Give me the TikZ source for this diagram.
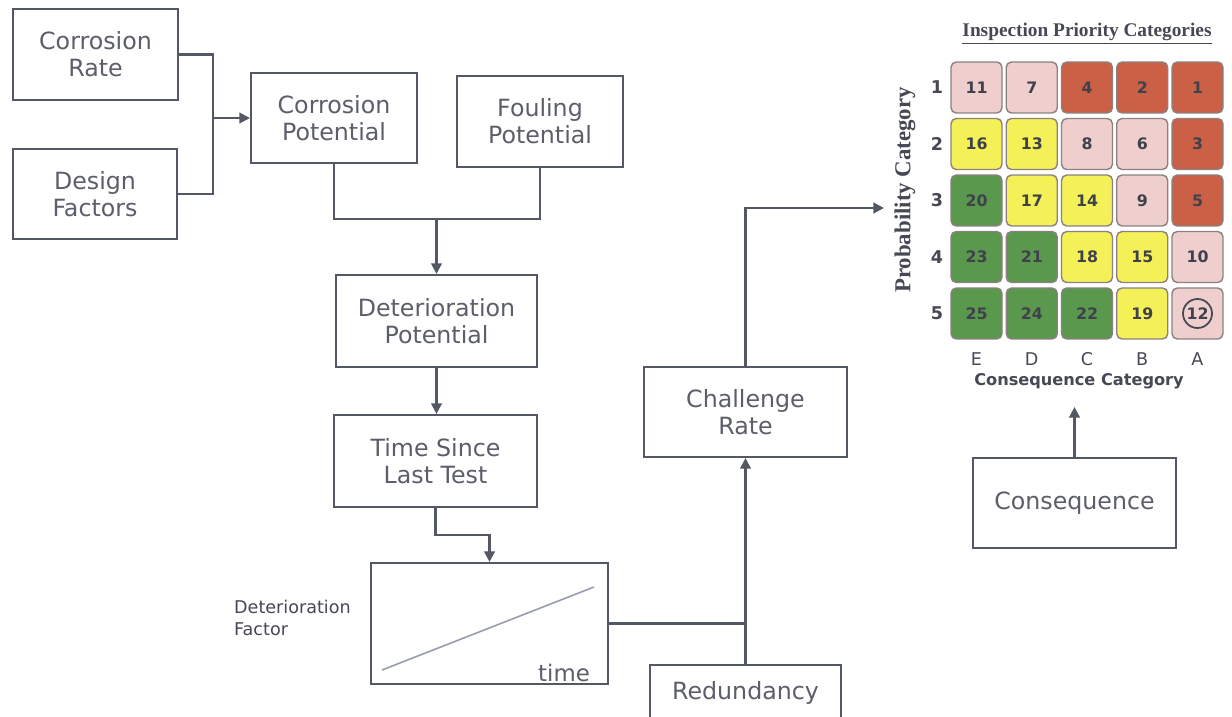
\documentclass[tikz,border=0pt]{standalone}
\usepackage{fontspec}
\setmainfont{DejaVu Sans}
\newfontfamily\ttlfont{Liberation Serif}
\usepackage{xcolor}
\usetikzlibrary{positioning, arrows.meta}
\definecolor{LineGrey}{RGB}{84,88,100}
\definecolor{TextGrey}{RGB}{92,94,106}
\definecolor{DarkGrey}{RGB}{70,72,84}
\definecolor{CurveGrey}{RGB}{150,156,172}
\definecolor{cellP}{RGB}{239,206,206}
\definecolor{cellR}{RGB}{202,96,70}
\definecolor{cellY}{RGB}{243,240,88}
\definecolor{cellG}{RGB}{90,152,78}
\definecolor{CellEdge}{RGB}{140,128,128}
\newcommand{\boxfs}{\fontsize{13.5}{15.5}\selectfont}
\tikzset{
  flowbox/.style={draw=LineGrey, line width=1.2pt, fill=white, text=TextGrey,
    inner sep=0pt, align=center, font=\boxfs},
  wire/.style={draw=LineGrey, line width=1.2pt},
  flowarrow/.style={wire, -{Triangle[length=6pt,width=6pt]}},
  cell/.style={draw=CellEdge, line width=0.8pt, rounded corners=3pt,
    minimum width=1.02cm, minimum height=1.02cm, inner sep=0pt,
    font=\bfseries\fontsize{9}{10}\selectfont, text=DarkGrey!90!black},
  axislab/.style={font=\bfseries\fontsize{10}{12}\selectfont, text=DarkGrey},
}

\begin{document}
\begin{tikzpicture}[x=0.02cm, y=-0.02cm]
  \useasboundingbox (0,0) rectangle (1232,717);

  % input boxes
  \node[flowbox, minimum width=3.3cm, minimum height=1.82cm] (crate) at (95.5,54.5) {Corrosion\\Rate};
  \node[flowbox, minimum width=3.28cm, minimum height=1.8cm] (design) at (95,194) {Design\\Factors};
  \node[flowbox, minimum width=3.32cm, minimum height=1.8cm] (cpot) at (334,118) {Corrosion\\Potential};
  \node[flowbox, minimum width=3.32cm, minimum height=1.82cm] (fpot) at (540,121.5) {Fouling\\Potential};
  \node[flowbox, minimum width=4.02cm, minimum height=1.84cm] (dpot) at (436.5,321) {Deterioration\\Potential};
  \node[flowbox, minimum width=4.06cm, minimum height=1.84cm] (tslt) at (435.5,461) {Time Since\\Last Test};
  \node[flowbox, minimum width=4.74cm, minimum height=2.42cm] (graph) at (489.5,623.5) {};
  \node[flowbox, minimum width=4.06cm, minimum height=1.8cm] (chal) at (745.5,412) {Challenge\\Rate};
  \node[flowbox, minimum width=3.82cm, minimum height=1.1cm] (redund) at (745.5,692.5) {Redundancy};
  \node[flowbox, minimum width=4.06cm, minimum height=1.8cm] (conseq) at (1074.5,503) {Consequence};

  % graph inside the deterioration box
  \draw[CurveGrey, line width=0.9pt] (382,670) -- (594,587);
  \node[text=TextGrey, font=\fontsize{13}{15}\selectfont] (tlab) at (564,673) {time};
  \node[anchor=west, align=left, text=DarkGrey, font=\fontsize{10}{13}\selectfont] (dfac) at (228,618) {Deterioration\\Factor};

  % connectors
  \coordinate (j1) at (213,118);
  \coordinate (j2) at (436.5,219);
  \coordinate (j3) at (489.5,535);
  \coordinate (mtx) at (884,208);
  \coordinate (ctip) at (1074.5,407);
  \draw[wire] (crate.east) -| (j1);
  \draw[wire] (design.east) -| (j1);
  \draw[flowarrow] (j1) -- (cpot.west);
  \draw[wire] (cpot.south) |- (j2) -| (fpot.south);
  \draw[flowarrow] (j2) -- (dpot.north);
  \draw[flowarrow] (dpot.south) -- (dpot.south |- tslt.north);
  \draw[flowarrow] (tslt.south) |- (j3) -- (graph.north);
  \draw[wire] (graph.east) -- (graph.east -| chal.south);
  \draw[flowarrow] (redund.north) -- (chal.south);
  \draw[flowarrow] (chal.north) |- (mtx);
  \draw[flowarrow] (conseq.north) -- (ctip);

  % inspection priority matrix
  \node[text=DarkGrey, font=\ttlfont\bfseries\fontsize{11}{13}\selectfont] (title) at (1087,34) {\underline{Inspection Priority Categories}};
  \foreach \r/\cells in {1/{11/P,7/P,4/R,2/R,1/R}, 2/{16/Y,13/Y,8/P,6/P,3/R},
      3/{20/G,17/Y,14/Y,9/P,5/R}, 4/{23/G,21/G,18/Y,15/Y,10/P}, 5/{25/G,24/G,22/G,19/Y,12/P}} {
    \foreach \n/\c [count=\k] in \cells {
      \node[cell, fill=cell\c] (c\r\k) at ({976.5+55.25*(\k-1)}, {87.5+56.5*(\r-1)}) {\n};
    }
    \node[axislab] (row\r) at (937,{87.5+56.5*(\r-1)}) {\r};
  }
  \node[draw=DarkGrey, line width=1pt, circle, minimum size=0.58cm, inner sep=0pt] (ring) at (c55) {};
  \foreach \l [count=\k] in {E,D,C,B,A} {
    \node[text=DarkGrey, font=\fontsize{10}{12}\selectfont] (col\k) at ({976.5+55.25*(\k-1)},359) {\l};
  }
  \node[text=DarkGrey, font=\bfseries\fontsize{9.2}{11}\selectfont] (ccat) at (1079,381) {Consequence Category};
  \node[rotate=90, text=DarkGrey, font=\ttlfont\bfseries\fontsize{13}{15}\selectfont] (pcat) at (905,190) {Probability Category};
\end{tikzpicture}
\end{document}
